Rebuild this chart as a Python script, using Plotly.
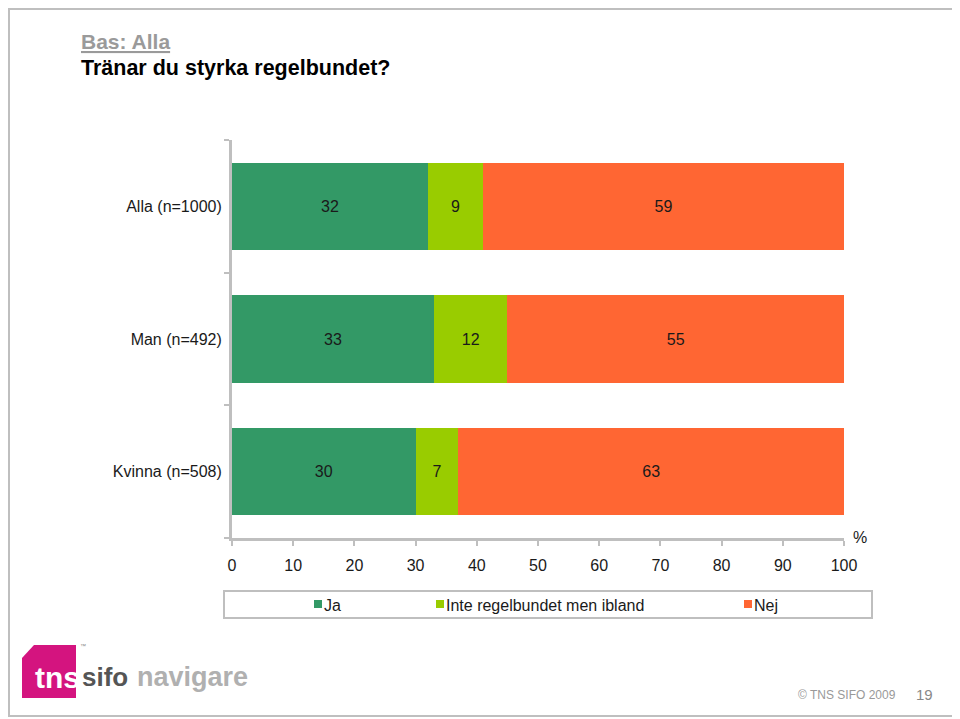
import plotly.graph_objects as go

categories = ["Alla (n=1000)", "Man (n=492)", "Kvinna (n=508)"]
ja = [32, 33, 30]
inte = [9, 12, 7]
nej = [59, 55, 63]
series_names = ["Ja", "Inte regelbundet men ibland", "Nej"]
colors = ["#339966", "#99CC00", "#FF6633"]
x_ticks = [0, 10, 20, 30, 40, 50, 60, 70, 80, 90, 100]

OFF = 8  # page body margin
W, H = 960 - OFF, 719 - OFF
# plot area in reference (page) pixels
RL, RR, RT, RB = 232, 844, 140, 538
L, R, T, B = RL - OFF, RR - OFF, RT - OFF, RB - OFF


def px(x):
    return (x - RL) / (RR - RL)


def py(y):
    return (RB - y) / (RB - RT)


FONT = "Liberation Sans, Arial"
fig = go.Figure()
for name, vals, col in zip(series_names, [ja, inte, nej], colors):
    fig.add_trace(go.Bar(
        y=categories, x=vals, name=name, orientation="h",
        marker=dict(color=col, line=dict(width=0)),
        text=[str(v) for v in vals], textposition="inside",
        insidetextanchor="middle", textangle=0,
        textfont=dict(size=16, color="#1a1a1a", family=FONT),
        showlegend=False,
    ))

axis_col = "#bfbfbf"
fig.update_layout(
    width=W, height=H,
    margin=dict(l=L, r=W - R, t=T, b=H - B, pad=0),
    barmode="stack", bargap=0.34,
    plot_bgcolor="white", paper_bgcolor="white",
    font=dict(family=FONT, size=16, color="#1a1a1a"),
    xaxis=dict(range=[0, 100], tickvals=x_ticks, ticktext=[str(v) for v in x_ticks],
               showgrid=False, zeroline=False, showline=True, linecolor=axis_col,
               linewidth=3, ticks="outside", ticklen=5, tickwidth=2, tickcolor=axis_col,
               ticklabelstandoff=6, tickfont=dict(size=16, color="#1a1a1a")),
    yaxis=dict(type="category", categoryorder="array",
               categoryarray=list(reversed(categories)),
               showgrid=False, zeroline=False, showline=True, linecolor=axis_col,
               linewidth=3, ticks="outside", ticklen=5, tickwidth=2, tickcolor=axis_col,
               tickson="boundaries", ticklabelstandoff=4,
               tickfont=dict(size=16, color="#1a1a1a")),
)

shapes = []
annotations = []

# slide frame
shapes.append(dict(type="rect", xref="paper", yref="paper",
                   x0=px(9), x1=px(955), y0=py(9), y1=py(716),
                   line=dict(color="#bfbfbf", width=2), layer="below"))

# titles
annotations.append(dict(xref="paper", yref="paper", x=px(79), y=py(42),
                        xanchor="left", yanchor="middle", showarrow=False,
                        text="<b><u>Bas: Alla</u></b>",
                        font=dict(size=21, color="#9a9a9a")))
annotations.append(dict(xref="paper", yref="paper", x=px(79), y=py(68),
                        xanchor="left", yanchor="middle", showarrow=False,
                        text="<b>Tränar du styrka regelbundet?</b>",
                        font=dict(size=21.5, color="#000000")))

# percent sign
annotations.append(dict(xref="paper", yref="paper", x=px(851), y=py(537),
                        xanchor="left", yanchor="middle", showarrow=False,
                        text="%", font=dict(size=16, color="#1a1a1a")))

# manual legend
shapes.append(dict(type="rect", xref="paper", yref="paper",
                   x0=px(224), x1=px(872), y0=py(591), y1=py(618),
                   line=dict(color="#bfbfbf", width=2), fillcolor="white"))
legend_x = [314, 436, 744]
for name, col, lx in zip(series_names, colors, legend_x):
    shapes.append(dict(type="rect", xref="paper", yref="paper",
                       x0=px(lx), x1=px(lx + 8), y0=py(600), y1=py(608),
                       line=dict(width=0), fillcolor=col))
    annotations.append(dict(xref="paper", yref="paper", x=px(lx + 8), y=py(605),
                            xanchor="left", yanchor="middle", showarrow=False,
                            text=name, font=dict(size=16, color="#1a1a1a")))

# logo
path = "M {} {} L {} {} L {} {} L {} {} L {} {} Z".format(
    px(22), py(658), px(34), py(645), px(76), py(645), px(76), py(698), px(22), py(698))
shapes.append(dict(type="path", xref="paper", yref="paper", path=path,
                   fillcolor="#d4147f", line=dict(width=0)))
annotations.append(dict(xref="paper", yref="paper", x=px(33), y=py(677),
                        xanchor="left", yanchor="middle", showarrow=False,
                        text="<b>tns</b>", font=dict(size=30, color="white")))
annotations.append(dict(xref="paper", yref="paper", x=px(78), y=py(646),
                        xanchor="left", yanchor="middle", showarrow=False,
                        text="™", font=dict(size=6, color="#888888")))
annotations.append(dict(xref="paper", yref="paper", x=px(80), y=py(677),
                        xanchor="left", yanchor="middle", showarrow=False,
                        text="<b>sifo</b>", font=dict(size=26, color="#555555")))
annotations.append(dict(xref="paper", yref="paper", x=px(135), y=py(677),
                        xanchor="left", yanchor="middle", showarrow=False,
                        text="<b>navigare</b>", font=dict(size=27, color="#b0b0b0")))

# footer
annotations.append(dict(xref="paper", yref="paper", x=px(898), y=py(695),
                        xanchor="right", yanchor="middle", showarrow=False,
                        text="© TNS SIFO 2009", font=dict(size=12, color="#999999")))
annotations.append(dict(xref="paper", yref="paper", x=px(935), y=py(694),
                        xanchor="right", yanchor="middle", showarrow=False,
                        text="19", font=dict(size=15, color="#888888")))

fig.update_layout(shapes=shapes, annotations=annotations)
fig.write_html("out.html")
